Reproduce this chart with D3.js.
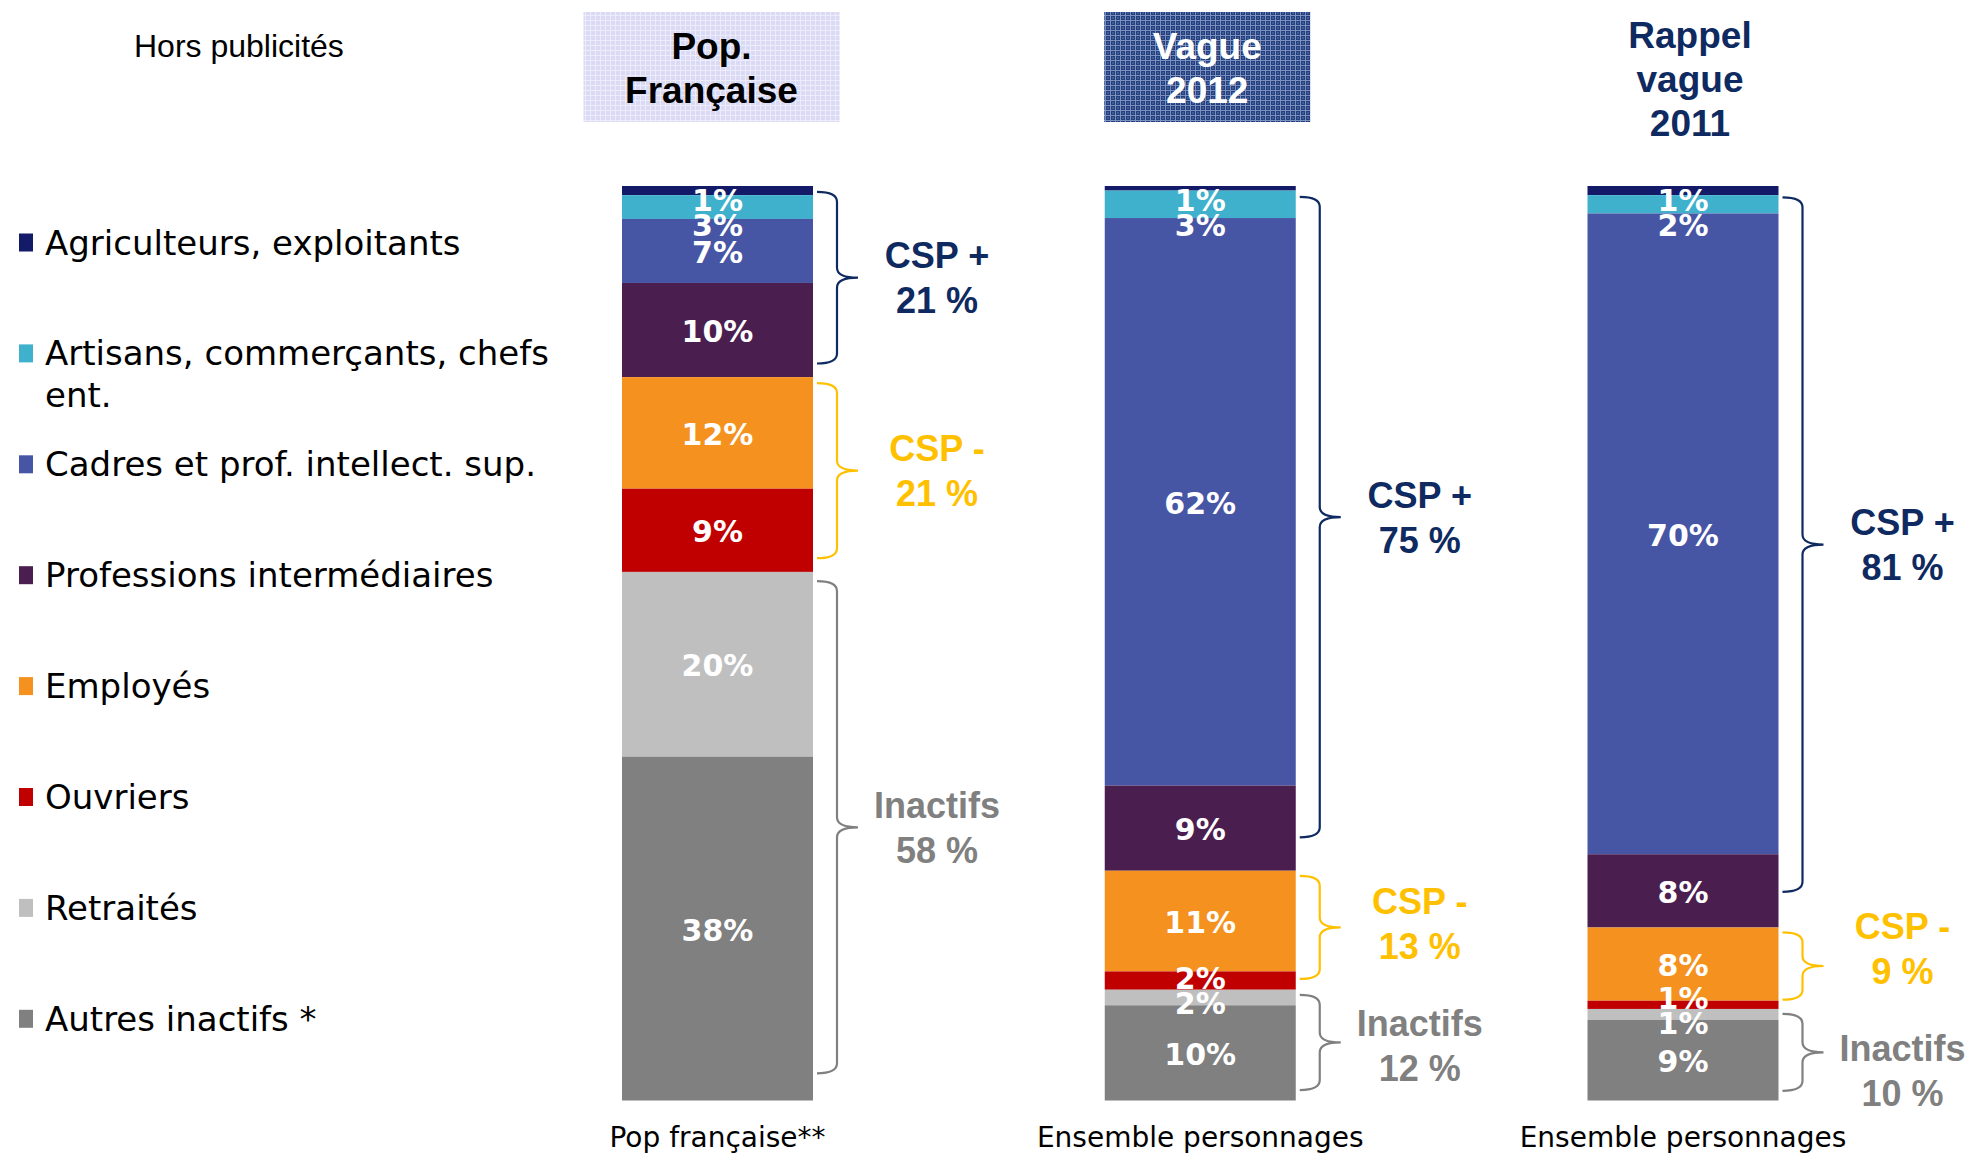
<!DOCTYPE html>
<html>
<head>
<meta charset="utf-8">
<script src="https://cdn.jsdelivr.net/npm/d3@7"></script>
<style>
  body { margin: 0; background: #fff; }
  svg { display: block; }
</style>
</head>
<body>
<div id="chart"></div>
<script>
// categories, top of the bar first
var categories = ['Agriculteurs, exploitants', 'Artisans, commerçants, chefs ent.',
                  'Cadres et prof. intellect. sup.', 'Professions intermédiaires',
                  'Employés', 'Ouvriers', 'Retraités', 'Autres inactifs *'];
var colors = ['#131a68', '#3fb1cc', '#4755a5', '#4b1e50', '#f5921f', '#c00000', '#bfbfbf', '#808080'];

var columns = ['Pop française**', 'Ensemble personnages', 'Ensemble personnages'];
var headers = [['Pop.', 'Française'], ['Vague', '2012'], ['Rappel', 'vague', '2011']];

// segment shares as they are drawn
var popValues    = [1, 2.6, 7, 10.3, 12.2, 9.1, 20.2, 37.6];
var vague2012    = [0.5, 3, 62, 9.3, 11, 2, 1.7, 10.4];
var rappel2011   = [1, 2, 70, 8, 8, 0.9, 1.2, 8.8];
// printed percentages
var popShown     = [1, 3, 7, 10, 12, 9, 20, 38];
var vagueShown   = [1, 3, 62, 9, 11, 2, 2, 10];
var rappelShown  = [1, 2, 70, 8, 8, 1, 1, 9];

var groupNames  = ['CSP +', 'CSP -', 'Inactifs'];
var groupRanges = [[0, 3], [4, 5], [6, 7]];
var groupColors = ['#0f2a60', '#ffc000', '#808080'];
var popGroups    = [21, 21, 58];
var vagueGroups  = [75, 13, 12];
var rappelGroups = [81, 9, 10];

var values = [popValues, vague2012, rappel2011];
var shown  = [popShown, vagueShown, rappelShown];
var groupTotals = [popGroups, vagueGroups, rappelGroups];

var width = 1970, height = 1156;
var barTop = 186, barBottom = 1100.5, barWidth = 191;

var svg = d3.select('#chart').append('svg')
    .attr('width', width)
    .attr('height', height);

var defs = svg.append('defs');

// light lavender grid for the first header box
var p1 = defs.append('pattern').attr('id', 'gridLight')
    .attr('width', 5).attr('height', 5).attr('patternUnits', 'userSpaceOnUse');
p1.append('rect').attr('width', 5).attr('height', 5).attr('fill', '#dadaf4');
p1.append('path').attr('d', 'M0,0.5H5M0.5,0V5').attr('stroke', '#ececfb').attr('stroke-width', 1);

// dark blue grid for the second header box
var p2 = defs.append('pattern').attr('id', 'gridDark')
    .attr('width', 5).attr('height', 5).attr('patternUnits', 'userSpaceOnUse');
p2.append('rect').attr('width', 5).attr('height', 5).attr('fill', '#22407e');
p2.append('path').attr('d', 'M0,0.5H5M0.5,0V5').attr('stroke', '#7e90bf').attr('stroke-width', 1);
p2.append('rect').attr('x', 2.5).attr('y', 2.5).attr('width', 1).attr('height', 1).attr('fill', '#9fadd2');

var x = d3.scalePoint().domain(d3.range(columns.length)).range([717.5, 1683]);
var y = d3.scaleLinear().domain([0, 1]).range([barTop, barBottom]);

// stack each column, normalised to 100 %
var rows = columns.map(function(c, j) { return { col: j, vals: values[j] }; });
var stack = d3.stack()
    .keys(d3.range(categories.length))
    .value(function(d, k) { return d.vals[k]; })
    .offset(d3.stackOffsetExpand);
var series = stack(rows);

// bars
svg.append('g').selectAll('g')
    .data(series)
  .enter().append('g')
    .attr('fill', function(d) { return colors[d.key]; })
  .selectAll('rect')
    .data(function(d) { return d; })
  .enter().append('rect')
    .attr('x', function(d) { return x(d.data.col) - barWidth / 2; })
    .attr('y', function(d) { return y(d[0]); })
    .attr('width', barWidth)
    .attr('height', function(d) { return y(d[1]) - y(d[0]); });

// push overlapping labels apart, keep them inside [lo, hi]
function spreadLabels(items, gap, lo, hi) {
    var clusters = items.map(function(d) { return { items: [d] }; });
    function place(c) {
        var n = c.items.length;
        var start = d3.mean(c.items, function(d) { return d.natural; }) - (n - 1) * gap / 2;
        start = Math.max(lo, Math.min(start, hi - (n - 1) * gap));
        c.start = start;
        c.end = start + (n - 1) * gap;
    }
    clusters.forEach(place);
    var merged = true;
    while (merged) {
        merged = false;
        for (var i = 1; i < clusters.length; i++) {
            if (clusters[i].start < clusters[i - 1].end + gap) {
                clusters[i - 1].items = clusters[i - 1].items.concat(clusters[i].items);
                clusters.splice(i, 1);
                place(clusters[i - 1]);
                merged = true;
                break;
            }
        }
    }
    clusters.forEach(function(c) {
        c.items.forEach(function(d, k) { d.y = c.start + k * gap; });
    });
}

columns.forEach(function(c, j) {
    var items = series.map(function(s) {
        var seg = s[j];
        return { text: shown[j][s.key] + '%', natural: (y(seg[0]) + y(seg[1])) / 2 };
    });
    spreadLabels(items, 25, barTop + 13, barBottom - 13);

    svg.append('g').selectAll('text')
        .data(items)
      .enter().append('text')
        .attr('x', x(j))
        .attr('y', function(d) { return d.y; })
        .attr('dy', '0.4em')
        .attr('text-anchor', 'middle')
        .style('font-family', '"DejaVu Sans", Verdana, sans-serif')
        .style('font-weight', 'bold')
        .style('font-size', '30px')
        .style('fill', '#fff')
        .text(function(d) { return d.text; });

    // braces
    var right = x(j) + barWidth / 2;
    var tips = [];
    groupRanges.forEach(function(r, g) {
        var top = y(series[r[0]][j][0]), bot = y(series[r[1]][j][1]);
        var h = bot - top;
        var y0 = top + 4 + 0.01 * h, y1 = bot - 6 - 0.04 * h;
        var x0 = right + 4, xv = right + 24, xt = right + 45;
        var ym = (y0 + y1) / 2, rr = Math.min(10, (y1 - y0) / 4);
        var path = d3.path();
        path.moveTo(x0, y0);
        path.quadraticCurveTo(xv, y0, xv, y0 + rr);
        path.lineTo(xv, ym - rr);
        path.quadraticCurveTo(xv, ym, xt, ym);
        path.quadraticCurveTo(xv, ym, xv, ym + rr);
        path.lineTo(xv, y1 - rr);
        path.quadraticCurveTo(xv, y1, x0, y1);
        svg.append('path')
            .attr('d', path.toString())
            .attr('fill', 'none')
            .attr('stroke', groupColors[g])
            .attr('stroke-width', 2.2);
        tips.push({ g: g, natural: ym });
    });

    // group labels, kept clear of each other
    spreadLabels(tips, 122, 0, height - 50);
    tips.forEach(function(d) {
        var lab = svg.append('text')
            .attr('text-anchor', 'middle')
            .style('font-family', '"Liberation Sans", Arial, sans-serif')
            .style('font-weight', 'bold')
            .style('font-size', '36px')
            .style('fill', groupColors[d.g]);
        [groupNames[d.g], groupTotals[j][d.g] + ' %'].forEach(function(t, k) {
            lab.append('tspan')
                .attr('x', right + 124)
                .attr('y', d.y - 22.5 + k * 45)
                .attr('dy', '0.36em')
                .text(t);
        });
    });

    // column label under the bar
    svg.append('text')
        .attr('x', x(j))
        .attr('y', 1137)
        .attr('dy', '0.36em')
        .attr('text-anchor', 'middle')
        .style('font-family', '"DejaVu Sans", Verdana, sans-serif')
        .style('font-size', '28px')
        .style('fill', '#000')
        .text(c);
});

// column headers
var headerShift = [-6, 7, 7];
var boxWidths = [256, 206];
headers.forEach(function(lines, j) {
    var n = lines.length;
    var cx = x(j) + headerShift[j];
    var cy = n === 3 ? 79 : 68;
    var hdr = svg.append('g');
    if (j < 2) {
        hdr.append('rect')
            .attr('x', cx - boxWidths[j] / 2)
            .attr('y', cy - 56)
            .attr('width', boxWidths[j])
            .attr('height', 110)
            .attr('fill', j === 0 ? 'url(#gridLight)' : 'url(#gridDark)');
    }
    var txt = hdr.append('text')
        .attr('text-anchor', 'middle')
        .style('font-family', '"Liberation Sans", Arial, sans-serif')
        .style('font-weight', 'bold')
        .style('font-size', '37px')
        .style('fill', j === 0 ? '#000' : (j === 1 ? '#fff' : '#0f2a60'));
    lines.forEach(function(t, k) {
        txt.append('tspan')
            .attr('x', cx)
            .attr('y', cy + (k - (n - 1) / 2) * 44)
            .attr('dy', '0.36em')
            .text(t);
    });
});

svg.append('text')
    .attr('x', 134)
    .attr('y', 45)
    .attr('dy', '0.36em')
    .style('font-family', '"Liberation Sans", Arial, sans-serif')
    .style('font-size', '32px')
    .style('fill', '#000')
    .text('Hors publicités');

// legend
var legend = svg.append('g');
var ly = d3.scaleLinear().domain([0, 1]).range([242.5, 353.4]);
categories.forEach(function(name, i) {
    var cy = ly(i);
    legend.append('rect')
        .attr('x', 19)
        .attr('y', cy - 9)
        .attr('width', 14)
        .attr('height', 18)
        .attr('fill', colors[i]);
    var t = legend.append('text')
        .style('font-family', '"DejaVu Sans", Verdana, sans-serif')
        .style('font-size', '34px')
        .style('fill', '#000');
    var words = name.split(' '), line = [], lineNo = 0;
    var ts = t.append('tspan').attr('x', 45).attr('y', cy + 12);
    words.forEach(function(w) {
        line.push(w);
        ts.text(line.join(' '));
        if (ts.node().getComputedTextLength() > 530 && line.length > 1) {
            line.pop();
            ts.text(line.join(' '));
            line = [w];
            lineNo++;
            ts = t.append('tspan').attr('x', 45).attr('y', cy + 12 + lineNo * 41.5).text(w);
        }
    });
});
</script>
</body>
</html>
